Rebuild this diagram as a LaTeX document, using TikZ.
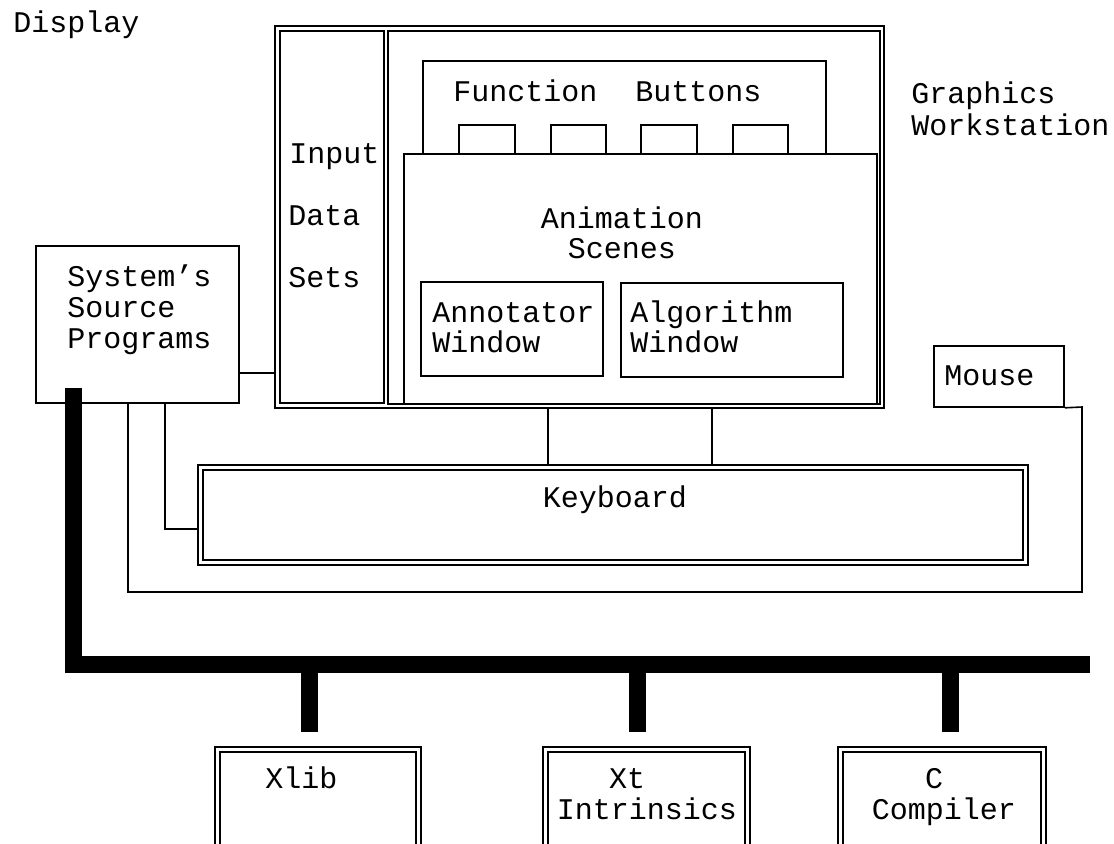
\documentclass[tikz,border=0pt]{standalone}
\usepackage{fontspec}
\setmainfont{Liberation Mono}
\usetikzlibrary{fit}
\tikzset{
  box/.style={draw, line width=0.8pt, inner sep=0pt},
  dbox/.style={draw, double, line width=0.7pt, double distance=1.8pt, inner sep=0pt},
  wire/.style={line width=0.8pt},
  bus/.style={line width=8.5pt, line cap=butt, line join=miter},
  txt/.style={anchor=base west, inner sep=0pt, font=\fontsize{15}{18}\selectfont},
  ctxt/.style={anchor=base, inner sep=0pt, font=\fontsize{15}{18}\selectfont},
}
\begin{document}
\begin{tikzpicture}[x=0.5pt,y=-0.5pt]
\useasboundingbox (0,0) rectangle (1114,843);
\clip (0,0) rectangle (1114,843);

% graphics workstation display
\node[box, fit={(275,26) (884,408)}] (disp) {};
\node[box, fit={(280,31) (384,403)}] (inp) {};
\node[box, fit={(388,31) (880,404)}] (scr) {};
\node[box, fit={(423,61) (826,154)}] (fbtn) {};
\node[box, fit={(459,125) (515,154)}] (b1) {};
\node[box, fit={(551,125) (606,154)}] (b2) {};
\node[box, fit={(641,125) (697,154)}] (b3) {};
\node[box, fit={(733,125) (788,154)}] (b4) {};
\node[box, fit={(404,154) (877,404)}] (anim) {};
\node[box, fit={(421,282) (603,376)}] (annw) {};
\node[box, fit={(621,283) (843,377)}] (algw) {};

% peripherals and source box
\node[box, fit={(934,346) (1064,407)}] (mouse) {};
\node[box, fit={(36,246) (239,403)}] (src) {};
\node[dbox, fit={(200.5,467.5) (1025.5,562.5)}] (kbd) {};

% libraries
\node[dbox, fit={(217.5,749.5) (418.5,870)}] (xlib) {};
\node[dbox, fit={(545.5,749.5) (747.5,870)}] (xt) {};
\node[dbox, fit={(840.5,749.5) (1043.5,870)}] (cc) {};

% labels
\node[txt] (lDisp) at (13,32) {Display};
\node[txt] (lGr) at (911,103) {Graphics};
\node[txt] (lWs) at (911,135) {Workstation};
\node[txt] (lIn) at (289,163) {Input};
\node[txt] (lDa) at (288,225) {Data};
\node[txt] (lSe) at (288,287) {Sets};
\node[txt] (lFn) at (453,101) {Function};
\node[txt] (lBt) at (635,101) {Buttons};
\node[ctxt] (lAn) at (622,228) {Animation};
\node[ctxt] (lSc) at (622,258) {Scenes};
\node[txt] (lAnn) at (432,322) {Annotator};
\node[txt] (lAnnW) at (432,352) {Window};
\node[txt] (lAlg) at (630,322) {Algorithm};
\node[txt] (lAlgW) at (630,352) {Window};
\node[txt] (lMo) at (944,385) {Mouse};
\node[txt] (lSy) at (67,286) {System’s};
\node[txt] (lSo) at (67,317) {Source};
\node[txt] (lPr) at (67,348) {Programs};
\node[ctxt] (lKb) at (615,507) {Keyboard};
\node[txt] (lXl) at (265,788) {Xlib};
\node[ctxt] (lXt) at (627,788) {Xt};
\node[ctxt] (lIt) at (647,819) {Intrinsics};
\node[ctxt] (lC) at (934,788) {C};
\node[ctxt] (lCo) at (944,819) {Compiler};

% thin connectors
\draw[wire] (src.east |- 0,373) -- (disp.west |- 0,373);
\draw[wire, shorten >=1.25pt] (src.south -| 165,0) |- (kbd.west |- 0,529);
\coordinate (mR) at (1082,407);
\coordinate (loopR) at (1082,592);
\coordinate (loopL) at (128,592);
\draw[wire] (mouse.south east) -- (mR) -- (loopR) -- (loopL) -- (src.south -| loopL);
\draw[wire, shorten >=1.25pt] (disp.south -| 548,0) -- (kbd.north -| 548,0);
\draw[wire, shorten >=1.25pt] (disp.south -| 712,0) -- (kbd.north -| 712,0);

% system bus
\coordinate (busTop) at (73,388);
\coordinate (busEnd) at (1090,664);
\draw[bus] (busTop) |- (busEnd);
\draw[bus, shorten >=8.25pt] (309,664) -- (xlib.north -| 309,0);
\draw[bus, shorten >=8.25pt] (637,664) -- (xt.north -| 637,0);
\draw[bus, shorten >=8.25pt] (950,664) -- (cc.north -| 950,0);
\end{tikzpicture}
\end{document}
